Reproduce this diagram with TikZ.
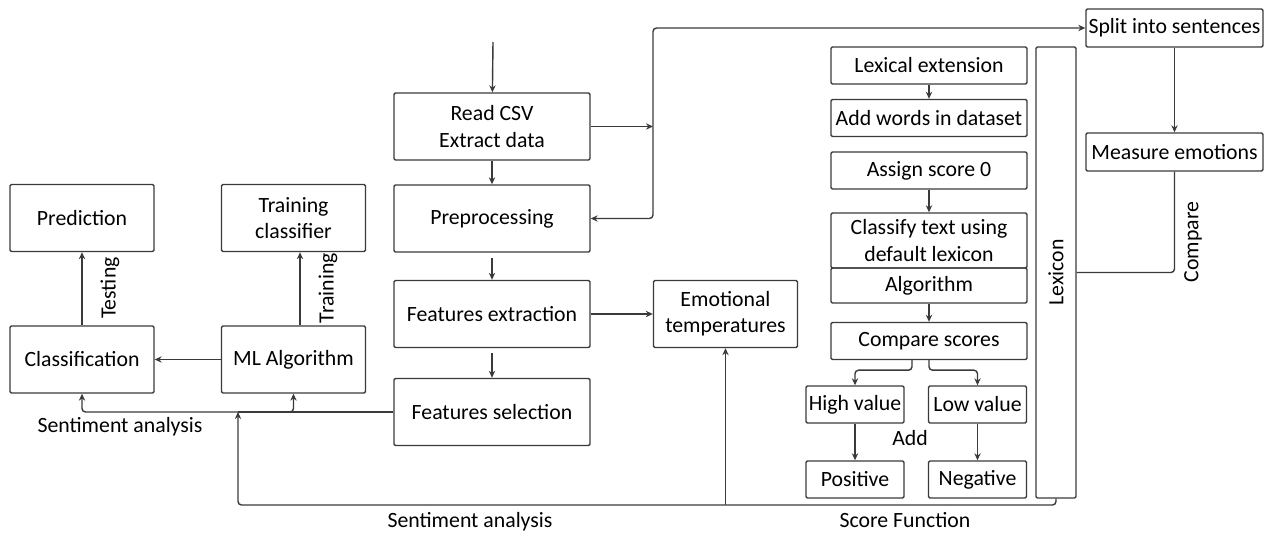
\documentclass[tikz,border=0pt]{standalone}
\usepackage{fontspec}
\setmainfont{Carlito}
\usetikzlibrary{arrows.meta,positioning,calc}
\definecolor{boxline}{HTML}{3A3A3A}

\begin{document}
\begin{tikzpicture}[x=0.02cm, y=-0.02cm,
  font=\fontsize{12.4}{15}\selectfont,
  box/.style={draw=boxline, line width=0.8pt, align=center, inner sep=1pt,
    rounded corners=0.8pt},
  bigbox/.style={box, minimum width=2.88cm, minimum height=1.34cm},
  stagebox/.style={box, minimum width=3.92cm, minimum height=1.34cm},
  lexbox/.style={box, minimum width=3.92cm, minimum height=0.74cm},
  valbox/.style={box, minimum width=1.96cm, minimum height=0.74cm},
  sentbox/.style={box, minimum width=3.54cm, minimum height=0.76cm},
  link/.style={draw=boxline, line width=0.8pt, rounded corners=2pt},
  arr/.style={link, -{Stealth[length=4pt,width=3.6pt]}},
  vlabel/.style={rotate=90, inner sep=0pt}
]
\useasboundingbox (0,0) rectangle (1269,534);

% left: machine learning part
\node[bigbox] (pred)    at (82,218)    {Prediction};
\node[bigbox] (train)   at (293.5,218) {Training\\classifier};
\node[bigbox] (classif) at (82,359.5)  {Classification};
\node[bigbox] (mlalg)   at (293.5,359.5) {ML Algorithm};

% middle: pipeline
\node[stagebox] (readcsv) at (492,126.5) {Read CSV\\Extract data};
\node[stagebox] (prep)    at (492,218.5) {Preprocessing};
\node[stagebox] (fext)    at (492,314)   {Features extraction};
\node[stagebox] (fsel)    at (492,412)   {Features selection};
\node[bigbox]   (emo)     at (725.5,314) {Emotional\\temperatures};

% right: score function
\node[lexbox] (lexext) at (929,65.5)  {Lexical extension};
\node[lexbox] (addw)   at (929,118)   {Add words in dataset};
\node[lexbox] (assign) at (929,170.5) {Assign score 0};
\node[box, minimum width=3.92cm, minimum height=1.1cm] (classify) at (929,240.5)
  {Classify text using\\default lexicon};
\node[box, minimum width=3.92cm, minimum height=0.7cm] (algo) at (929,285.5) {Algorithm};
\node[lexbox] (cmp)  at (929,341)     {Compare scores};
\node[valbox] (high) at (855,404.5)   {High value};
\node[valbox] (low)  at (977.5,404.5) {Low value};
\node[valbox] (pos)  at (855,479.5)   {Positive};
\node[valbox] (neg)  at (977.5,479.5) {Negative};
\node[box, rotate=90, minimum width=9.02cm, minimum height=0.8cm] (lexicon)
  at (1056,272.5) {Lexicon};
\node[sentbox] (split)   at (1174.5,28)  {Split into sentences};
\node[sentbox] (measure) at (1174.5,152) {Measure emotions};

% helper points
\coordinate (readin) at (493,42);
\coordinate (hub)    at (653,126.5);
\coordinate (sfbase) at (725.5,505);
\coordinate (fork)   at (238,412);

% connectors
\draw[arr] (readin) -- (readcsv);
\draw[arr] (readcsv) -- (prep);
\draw[arr, shorten <=3pt] (prep) -- (fext);
\draw[arr, shorten <=3pt] (fext) -- (fsel);
\draw[arr] (fext) -- (emo);
\draw[arr] (readcsv.east) -- (hub);
\draw[arr] (hub) |- (prep.east);
\draw[arr] (hub) |- (split.west);
\draw[arr] (split) -- (measure);
\draw[link] (measure) |- (lexicon.south);

\draw[arr] (lexext) -- (addw);
\draw[arr] (assign) -- (classify);
\draw[arr] (algo) -- (cmp);
\draw[arr] ([xshift=-0.34cm]cmp.south) -- ++(0,10) -| (high);
\draw[arr] (cmp.south) -- ++(0,10) -| (low);
\draw[arr] (high) -- (pos);
\draw[arr] (low) -- (neg);

\draw[link] (lexicon.west) |- (sfbase);
\draw[arr] (sfbase) -- (emo);
\draw[arr] (sfbase) -| (fork);
\draw[link] (fsel.west) -- (fork);
\draw[arr] (fork) -| (mlalg);
\draw[arr] (fork) -| (classif);
\draw[arr] (mlalg) -- (classif);
\draw[arr] (classif) -- (pred);
\draw[arr] ([xshift=0.13cm]mlalg.north) -- ([xshift=0.13cm]train.south);

% labels
\node[vlabel] (testlbl)  at (110,288)  {Testing};
\node[vlabel] (trainlbl) at (328,288)  {Training};
\node[vlabel] (cmplbl)   at (1193,242) {Compare};
\node (addlbl) at (910,438) {Add};
\node (salbl)  at (120,427) {Sentiment analysis};
\node (sabot)  at (470,522) {Sentiment analysis};
\node (sflbl)  at (905,520) {Score Function};
\end{tikzpicture}
\end{document}
